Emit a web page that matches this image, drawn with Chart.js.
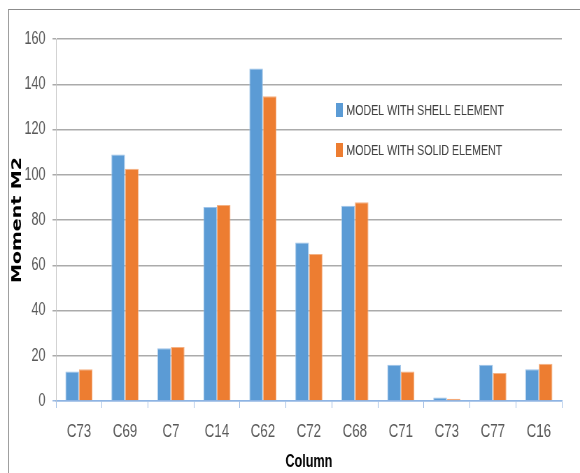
<!DOCTYPE html>
<html>
<head>
<meta charset="utf-8">
<script src="https://cdn.jsdelivr.net/npm/chart.js@4/dist/chart.umd.min.js"></script>
<style>
    body { margin: 0; background: #fff; }
    #wrap { position: relative; width: 580px; height: 473px; overflow: hidden; }
    #chart { position: absolute; left: 0; top: 0; }
    #frame { position: absolute; left: 8px; top: 9px; width: 580px; height: 480px;
             border-top: 1px solid #8c8c8c; border-left: 1px solid #a0a0a0; pointer-events: none; }
</style>
</head>
<body>
<div id="wrap">
    <!-- the picture is squeezed sideways, so draw wide and shrink the canvas -->
    <canvas id="chart" width="829" height="473" style="width:580px;height:473px"></canvas>
    <div id="frame"></div>
</div>
<script>
// chart data
const columns = ['C73', 'C69', 'C7', 'C14', 'C62', 'C72', 'C68', 'C71', 'C73', 'C77', 'C16'];
const shellValues = [13, 109, 23.3, 85.7, 147, 70.1, 86.3, 16, 1.6, 16, 14];
const solidValues = [14, 102.7, 23.9, 86.6, 134.7, 65, 87.8, 13, 1, 12.4, 16.5];
const seriesNames = ['MODEL WITH SHELL ELEMENT', 'MODEL WITH SOLID ELEMENT'];
const yTicks = [0, 20, 40, 60, 80, 100, 120, 140, 160];

const sans = "'Liberation Sans', Arial, sans-serif";

// legend drawn inside the plot, to the right of the tall bars
const insideLegend = {
    id: 'insideLegend',
    afterDraw(chart) {
        const ctx = chart.ctx;
        const area = chart.chartArea;
        ctx.save();
        ctx.font = '15.2px ' + sans;
        ctx.textBaseline = 'middle';
        chart.data.datasets.forEach((ds, i) => {
            const x = area.left + 400;
            const y = 110 + i * 40;
            ctx.fillStyle = ds.backgroundColor;
            ctx.fillRect(x, y - 7, 10, 14);
            ctx.fillStyle = '#404040';
            ctx.fillText(ds.label, x + 15, y + 1);
        });
        ctx.restore();
    }
};

document.addEventListener('DOMContentLoaded', function() {
    const ctx = document.getElementById('chart').getContext('2d');

    new Chart(ctx, {
        type: 'bar',
        data: {
            labels: columns,
            datasets: [{
                label: seriesNames[0],
                data: shellValues,
                backgroundColor: '#5b9bd5',
                borderColor: '#9cc2e8',
                borderWidth: 1,
                categoryPercentage: 0.59,
                barPercentage: 1
            }, {
                label: seriesNames[1],
                data: solidValues,
                backgroundColor: '#ed7d31',
                borderColor: '#f4b183',
                borderWidth: 1,
                categoryPercentage: 0.59,
                barPercentage: 1
            }]
        },
        options: {
            responsive: false,
            animation: false,
            layout: { padding: { top: 39, left: 14, right: 26, bottom: 0 } },
            plugins: {
                legend: { display: false },
                tooltip: { enabled: false }
            },
            scales: {
                x: {
                    offset: true,
                    afterFit(scale) { scale.height = 72; },
                    grid: {
                        display: true,
                        drawOnChartArea: false,
                        offset: true,
                        tickLength: 7,
                        color: '#9dbbe3'
                    },
                    border: { display: true, color: '#8eb4e3', width: 1.5 },
                    ticks: {
                        color: '#595959',
                        font: { family: sans, size: 19 },
                        padding: 12,
                        maxRotation: 0,
                        autoSkip: false
                    },
                    title: {
                        display: true,
                        text: 'Column',
                        color: '#000',
                        font: { family: sans, size: 18, weight: 'bold' },
                        padding: { top: 0, bottom: 0 }
                    }
                },
                y: {
                    min: 0,
                    max: 160,
                    afterFit(scale) { scale.width = 66; },
                    afterBuildTicks(scale) {
                        scale.ticks = yTicks.map(v => ({ value: v }));
                    },
                    grid: {
                        color: (c) => c.tick && c.tick.value === 0 ? '#9dbbe3' : '#ababab',
                        lineWidth: 1.5,
                        tickLength: 5
                    },
                    border: { display: true, color: '#c4c4c4', width: 1 },
                    ticks: {
                        color: '#595959',
                        font: { family: sans, size: 18 },
                        padding: 10
                    },
                    title: {
                        display: true,
                        text: 'Moment M2',
                        color: '#000',
                        font: { family: "'DejaVu Sans', sans-serif", size: 19, weight: 'bold' },
                        padding: { top: 0, bottom: 4 }
                    }
                }
            }
        },
        plugins: [insideLegend]
    });
});
</script>
</body>
</html>
